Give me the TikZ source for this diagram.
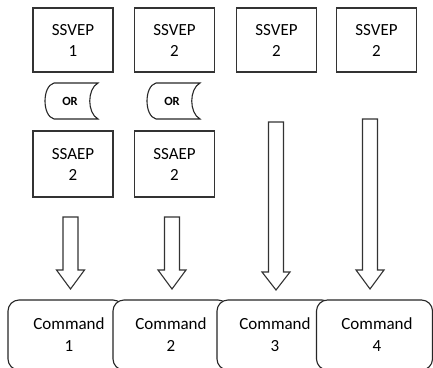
\documentclass[tikz,border=0pt]{standalone}
\usepackage{fontspec}
\setmainfont{Carlito}
\usetikzlibrary{calc}
\begin{document}
\begin{tikzpicture}[x=1pt,y=-1pt,
  line width=1.1pt,
  sbox/.style={draw=black!80, minimum width=80pt, minimum height=64pt, inner sep=0pt,
    align=center, font=\fontsize{17}{21}\selectfont},
  cmd/.style={draw=black!85, fill=white, rounded corners=11pt, minimum width=116pt,
    minimum height=70pt, inner sep=0pt, align=center, font=\fontsize{17}{22}\selectfont},
  orlabel/.style={inner sep=0pt, font=\fontsize{12.5}{14}\selectfont\bfseries},
  fat/.style={draw=black!80, line width=1.1pt, fill=white, line join=miter}]
\useasboundingbox (0,0) rectangle (433,367);

% top row
\node[sbox] (v1) at (73,40) {SSVEP\\1};
\node[sbox] (v2) at (174.5,40) {SSVEP\\2};
\node[sbox] (v3) at (276.5,40) {SSVEP\\2};
\node[sbox] (v4) at (376.5,40) {SSVEP\\2};

% SSAEP boxes
\node[sbox, minimum height=66pt] (a1) at (73,164) {SSAEP\\2};
\node[sbox, minimum height=66pt] (a2) at (174.5,164) {SSAEP\\2};

% OR stored-data shapes
\node[orlabel] (o1) at (70,101) {OR};
\node[orlabel] (o2) at (172,101) {OR};
\draw[draw=black!85] ($(o1)+(-16,-18)$) .. controls ($(o1)+(-28,-15)$) and ($(o1)+(-28,15)$) .. ($(o1)+(-16,18)$)
  -- ($(o1)+(28,18)$) .. controls ($(o1)+(17,12)$) and ($(o1)+(17,-12)$) .. ($(o1)+(28,-18)$) -- cycle;
\draw[draw=black!85] ($(o2)+(-16,-18)$) .. controls ($(o2)+(-28,-15)$) and ($(o2)+(-28,15)$) .. ($(o2)+(-16,18)$)
  -- ($(o2)+(28,18)$) .. controls ($(o2)+(17,12)$) and ($(o2)+(17,-12)$) .. ($(o2)+(28,-18)$) -- cycle;

% command boxes (each drawn over the previous)
\node[cmd] (c1) at (66,335) {\hspace*{6pt}Command\\\hspace*{6pt}1};
\node[cmd] (c2) at (171,335) {Command\\2};
\node[cmd] (c3) at (275,335) {Command\\3};
\node[cmd] (c4) at (374.5,335) {\hspace*{5pt}Command\\\hspace*{5pt}4};

% fat hollow arrows
\newcommand{\fatarr}[4]{%
  \draw[fat] (#1-7.5,#2) -- (#1+7.5,#2) -- (#1+7.5,#3) -- (#1+14,#3) -- (#1,#4)
    -- (#1-14,#3) -- (#1-7.5,#3) -- cycle;}
\fatarr{70.5}{217}{270}{289}
\fatarr{172}{217}{270}{289}
\fatarr{276}{122}{272}{290}
\fatarr{370}{119}{270}{289}
\end{tikzpicture}
\end{document}
